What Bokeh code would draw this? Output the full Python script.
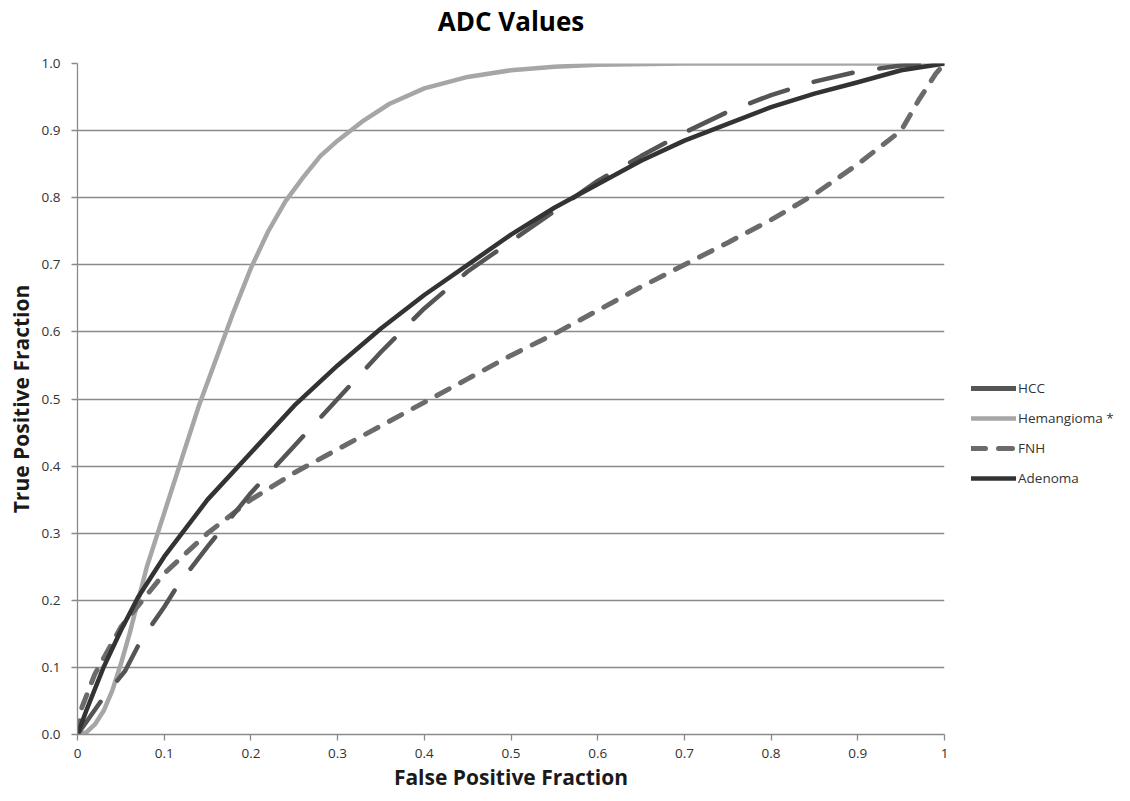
from bokeh.plotting import figure
from bokeh.layouts import row
from bokeh.models import Range1d, FixedTicker, Legend, LegendItem, Title
from bokeh.embed import file_html
from bokeh.resources import INLINE

# ---- data ----
hcc_x = [0, 0.03, 0.055, 0.073, 0.1, 0.116, 0.15, 0.2, 0.25, 0.3, 0.35, 0.4, 0.45, 0.5,
         0.55, 0.6, 0.65, 0.7, 0.75, 0.8, 0.85, 0.9, 0.95, 1.0]
hcc_y = [0, 0.055, 0.095, 0.14, 0.19, 0.223, 0.28, 0.36, 0.43, 0.5, 0.57, 0.635, 0.69, 0.735,
         0.78, 0.825, 0.862, 0.897, 0.928, 0.953, 0.973, 0.988, 0.997, 1.0]

hem_x = [0, 0.01, 0.02, 0.03, 0.04, 0.05, 0.06, 0.07, 0.08, 0.09, 0.10, 0.12, 0.14, 0.16,
         0.18, 0.20, 0.22, 0.24, 0.26, 0.28, 0.30, 0.33, 0.36, 0.40, 0.45, 0.50, 0.55,
         0.60, 0.70, 1.0]
hem_y = [0, 0.003, 0.015, 0.035, 0.065, 0.105, 0.15, 0.2, 0.25, 0.29, 0.33, 0.41, 0.49, 0.56,
         0.63, 0.695, 0.75, 0.795, 0.83, 0.862, 0.885, 0.915, 0.94, 0.963, 0.98, 0.99, 0.995,
         0.998, 1.0, 1.0]

fnh_x = [0, 0.005, 0.02, 0.05, 0.1, 0.15, 0.2, 0.25, 0.3, 0.35, 0.4, 0.45, 0.5, 0.55, 0.6,
         0.65, 0.7, 0.75, 0.8, 0.85, 0.9, 0.95, 0.97, 0.99, 1.0]
fnh_y = [0, 0.04, 0.09, 0.16, 0.24, 0.3, 0.35, 0.39, 0.425, 0.46, 0.495, 0.53, 0.565, 0.597,
         0.632, 0.667, 0.70, 0.733, 0.767, 0.805, 0.85, 0.9, 0.945, 0.985, 1.0]

ade_x = [0, 0.01, 0.03, 0.05, 0.07, 0.1, 0.15, 0.2, 0.25, 0.3, 0.35, 0.4, 0.45, 0.5, 0.55,
         0.6, 0.65, 0.7, 0.75, 0.8, 0.85, 0.9, 0.95, 1.0]
ade_y = [0, 0.035, 0.1, 0.155, 0.205, 0.265, 0.35, 0.42, 0.49, 0.55, 0.605, 0.655, 0.7, 0.745,
         0.785, 0.82, 0.855, 0.885, 0.91, 0.935, 0.955, 0.972, 0.99, 1.0]

series_names = ["HCC", "Hemangioma *", "FNH", "Adenoma"]
title_text = "ADC Values"

y_ticks = [0.0, 0.1, 0.2, 0.3, 0.4, 0.5, 0.6, 0.7, 0.8, 0.9, 1.0]
y_tick_labels = ["0.0", "0.1", "0.2", "0.3", "0.4", "0.5", "0.6", "0.7", "0.8", "0.9", "1.0"]
x_ticks = [0.0, 0.1, 0.2, 0.3, 0.4, 0.5, 0.6, 0.7, 0.8, 0.9, 1.0]
x_tick_labels = ["0", "0.1", "0.2", "0.3", "0.4", "0.5", "0.6", "0.7", "0.8", "0.9", "1"]

FONT = "Open Sans"
H = 793

p = figure(width=954, height=H, output_backend="svg", toolbar_location=None, title=None,
           x_range=Range1d(0, 1), y_range=Range1d(0, 1),
           min_border_left=77, min_border_right=10, min_border_top=62, min_border_bottom=58)
p.outline_line_color = None
p.background_fill_color = "white"
p.border_fill_color = "white"

# spacer between the frame and the title, then the title itself
p.add_layout(Title(text=" ", text_font_size="1px", standoff=22), "above")
p.add_layout(Title(text=title_text, align="center", text_font=FONT, text_font_style="bold",
                   text_font_size="26px", text_color="#000000", standoff=0), "above")

p.xgrid.grid_line_color = None
p.ygrid.grid_line_color = "#8a8a8a"
p.ygrid.grid_line_width = 1.3
p.ygrid.ticker = FixedTicker(ticks=y_ticks)

for ax in (p.xaxis[0], p.yaxis[0]):
    ax.axis_line_color = "#8a8a8a"
    ax.axis_line_width = 1.3
    ax.major_tick_line_color = "#8a8a8a"
    ax.major_tick_line_width = 1.3
    ax.major_tick_out = 6
    ax.major_tick_in = 0
    ax.minor_tick_line_color = None
    ax.major_label_text_font = FONT
    ax.major_label_text_font_size = "13.5px"
    ax.major_label_text_color = "#333333"
    ax.axis_label_text_font = FONT
    ax.axis_label_text_font_style = "bold"
    ax.axis_label_text_color = "#1a1a1a"
    ax.axis_label_text_font_size = "21px"

p.xaxis.ticker = FixedTicker(ticks=x_ticks)
p.xaxis.major_label_overrides = {t: l for t, l in zip(x_ticks, x_tick_labels)}
p.xaxis.axis_label = "False Positive Fraction"
p.xaxis.major_label_standoff = 8
p.xaxis.axis_label_standoff = 2

p.yaxis.ticker = FixedTicker(ticks=y_ticks)
p.yaxis.major_label_overrides = {t: l for t, l in zip(y_ticks, y_tick_labels)}
p.yaxis.axis_label = "True Positive Fraction"
p.yaxis.major_label_standoff = 11
p.yaxis.axis_label_standoff = 4

HEM_STYLE = dict(line_color="#a6a6a6", line_width=4.5, line_cap="round", line_join="round")
FNH_STYLE = dict(line_color="#6b6b6b", line_width=5, line_dash="14 13", line_cap="round", line_join="round")
HCC_STYLE = dict(line_color="#555555", line_width=4.5, line_dash="40 27", line_cap="round", line_join="round")
ADE_STYLE = dict(line_color="#333333", line_width=4.5, line_cap="round", line_join="round")

p.line(hem_x, hem_y, **HEM_STYLE)
p.line(fnh_x, fnh_y, **FNH_STYLE)
p.line(hcc_x, hcc_y, **HCC_STYLE)
p.line(ade_x, ade_y, **ADE_STYLE)

# ---- legend panel (separate blank figure to the right of the plot) ----
lg = figure(width=1114 - 954, height=H, output_backend="svg", toolbar_location=None,
            x_range=Range1d(0, 1), y_range=Range1d(0, 1),
            min_border=0, min_border_left=0, min_border_right=0,
            min_border_top=0, min_border_bottom=0)
lg.axis.visible = False
lg.grid.visible = False
lg.outline_line_color = None
lg.background_fill_color = "white"
lg.border_fill_color = "white"

off_x = [-5, -4]
off_y = [-5, -5]
# the HCC swatch is drawn solid in the reference legend
l_hcc = lg.line(off_x, off_y, line_color="#555555", line_width=5, line_cap="round")
l_hem = lg.line(off_x, off_y, **HEM_STYLE)
l_fnh = lg.line(off_x, off_y, **FNH_STYLE)
l_ade = lg.line(off_x, off_y, **ADE_STYLE)

legend = Legend(items=[
    LegendItem(label=series_names[0], renderers=[l_hcc]),
    LegendItem(label=series_names[1], renderers=[l_hem]),
    LegendItem(label=series_names[2], renderers=[l_fnh]),
    LegendItem(label=series_names[3], renderers=[l_ade]),
], location=(17, H - 487 - 60))
legend.border_line_color = None
legend.background_fill_alpha = 0
legend.padding = 0
legend.margin = 0
legend.spacing = 10
legend.glyph_width = 45
legend.glyph_height = 20
legend.label_height = 20
legend.label_standoff = 2
legend.label_text_font = FONT
legend.label_text_font_size = "13.5px"
legend.label_text_color = "#333333"
lg.add_layout(legend, "center")

layout = row(p, lg, spacing=0)
open("out.html", "w").write(file_html(layout, INLINE))
